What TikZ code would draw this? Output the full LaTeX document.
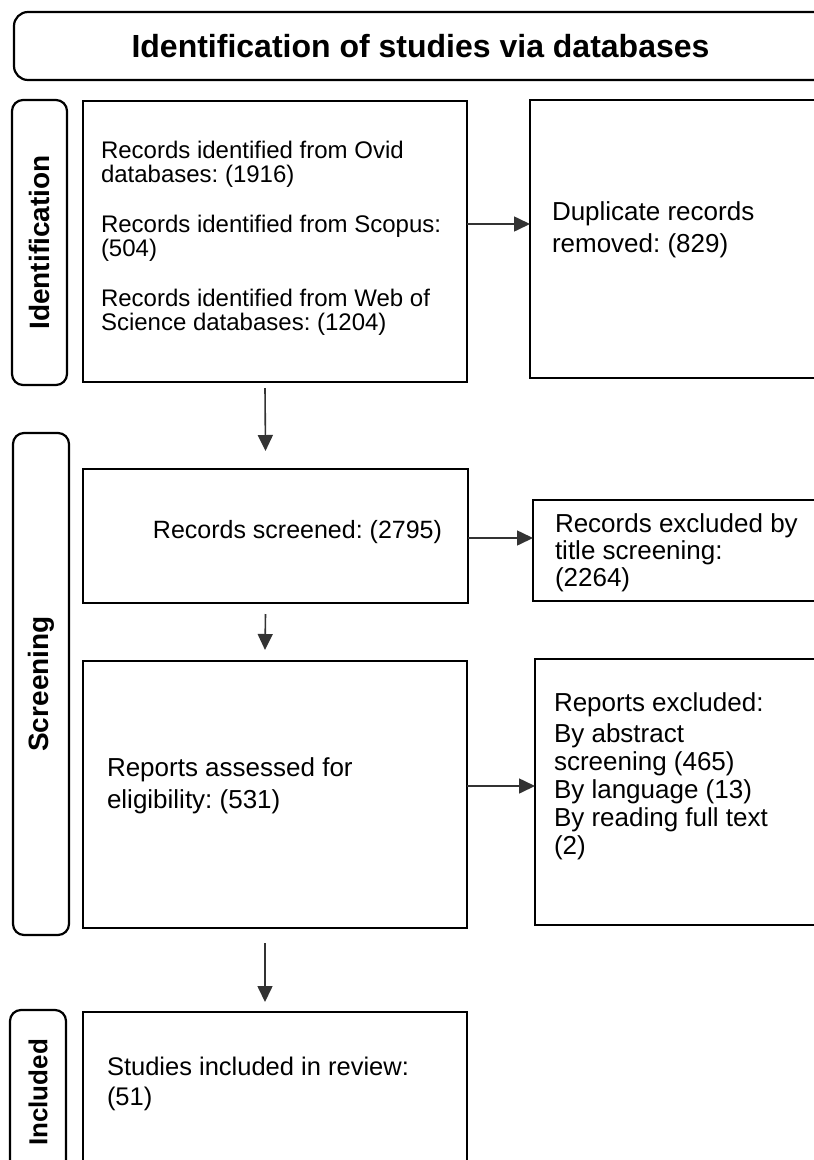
\documentclass[tikz,border=0pt]{standalone}
\usepackage{fontspec}
\setmainfont{Liberation Sans}
\usetikzlibrary{arrows.meta}
\frenchspacing
\hyphenpenalty=10000
\exhyphenpenalty=10000
\begin{document}
\begin{tikzpicture}[x=1pt,y=-1pt,
    every node/.style={inner sep=0pt,outer sep=0pt},
    frame/.style={draw,line width=2.6pt,anchor=north west},
    txt/.style={anchor=west,align=left},
    phase/.style={draw,line width=2.2pt,rounded corners=11pt,rotate=90,font=\fontsize{28}{30}\selectfont\bfseries},
    flow/.style={line width=1.6pt,draw=black!80,-{Triangle[length=16pt,width=15pt]}}]
  \useasboundingbox (0,0) rectangle (814,1160);
  \node[draw,line width=2.2pt,rounded corners=14pt,anchor=north west,minimum width=813pt,minimum height=68pt,
        font=\fontsize{32}{36}\selectfont\bfseries] (head) at (14,12) {Identification of studies via databases};
  \node[phase,minimum width=285pt,minimum height=55pt] (ident) at (39.5,242.5) {Identification};
  \node[phase,minimum width=502pt,minimum height=56pt] (screen) at (41,684) {Screening};
  \node[phase,minimum width=165pt,minimum height=56pt,font=\fontsize{26}{28}\selectfont\bfseries] (incl) at (38,1092.5) {Included};
  \node[frame,minimum width=384pt,minimum height=281pt] (found) at (83,101) {};
  \node[txt,font=\fontsize{24}{24}\selectfont] (foundtxt) at (101,238)
    {Records identified from Ovid\\databases: (1916)\\[26pt]Records identified from Scopus:\\(504)\\[26pt]Records identified from Web of\\Science databases: (1204)};
  \node[frame,minimum width=310pt,minimum height=278pt] (dupl) at (530,100) {};
  \node[txt,font=\fontsize{26}{32}\selectfont] (dupltxt) at (552,230) {Duplicate records\\removed: (829)};
  \node[frame,minimum width=385pt,minimum height=134pt] (screened) at (83,469) {};
  \node[txt,anchor=east,font=\fontsize{25}{30}\selectfont] (screenedtxt) at (442,532) {Records screened: (2795)};
  \node[frame,minimum width=300pt,minimum height=101pt] (title) at (533,500) {};
  \node[txt,font=\fontsize{26}{27}\selectfont] (titletxt) at (555,553) {Records excluded by\\title screening:\\(2264)};
  \node[frame,minimum width=384pt,minimum height=267pt] (assessed) at (83,661) {};
  \node[txt,font=\fontsize{26}{32}\selectfont] (assessedtxt) at (107,786) {Reports assessed for\\eligibility: (531)};
  \node[frame,minimum width=300pt,minimum height=266pt] (excl) at (535,659) {};
  \node[txt,font=\fontsize{26}{28}\selectfont] (excltxt) at (554,776)
    {Reports excluded:\\[3pt]By abstract\\screening (465)\\By language (13)\\By reading full text\\(2)};
  \node[frame,minimum width=384pt,minimum height=200pt] (studies) at (83,1012) {};
  \node[txt,font=\fontsize{25.5}{30}\selectfont] (studiestxt) at (107,1084) {Studies included in review:\\(51)};
  \draw[flow] ([yshift=17.5pt]found.east) -- ([yshift=17.5pt]found.east -| dupl.west);
  \draw[flow] ([xshift=-10pt,yshift=-6pt]found.south) -- ([xshift=-10pt,yshift=18pt]screened.north);
  \draw[flow] ([yshift=-2pt]screened.east) -- ([yshift=-2pt]screened.east -| title.west);
  \draw[flow] ([xshift=-10pt,yshift=-11pt]screened.south) -- ([xshift=-10pt,yshift=11pt]assessed.north);
  \draw[flow] ([yshift=8.5pt]assessed.east) -- ([yshift=8.5pt]assessed.east -| excl.west);
  \draw[flow] ([xshift=-10pt,yshift=-15pt]assessed.south) -- ([xshift=-10pt,yshift=10pt]studies.north);
\end{tikzpicture}
\end{document}
